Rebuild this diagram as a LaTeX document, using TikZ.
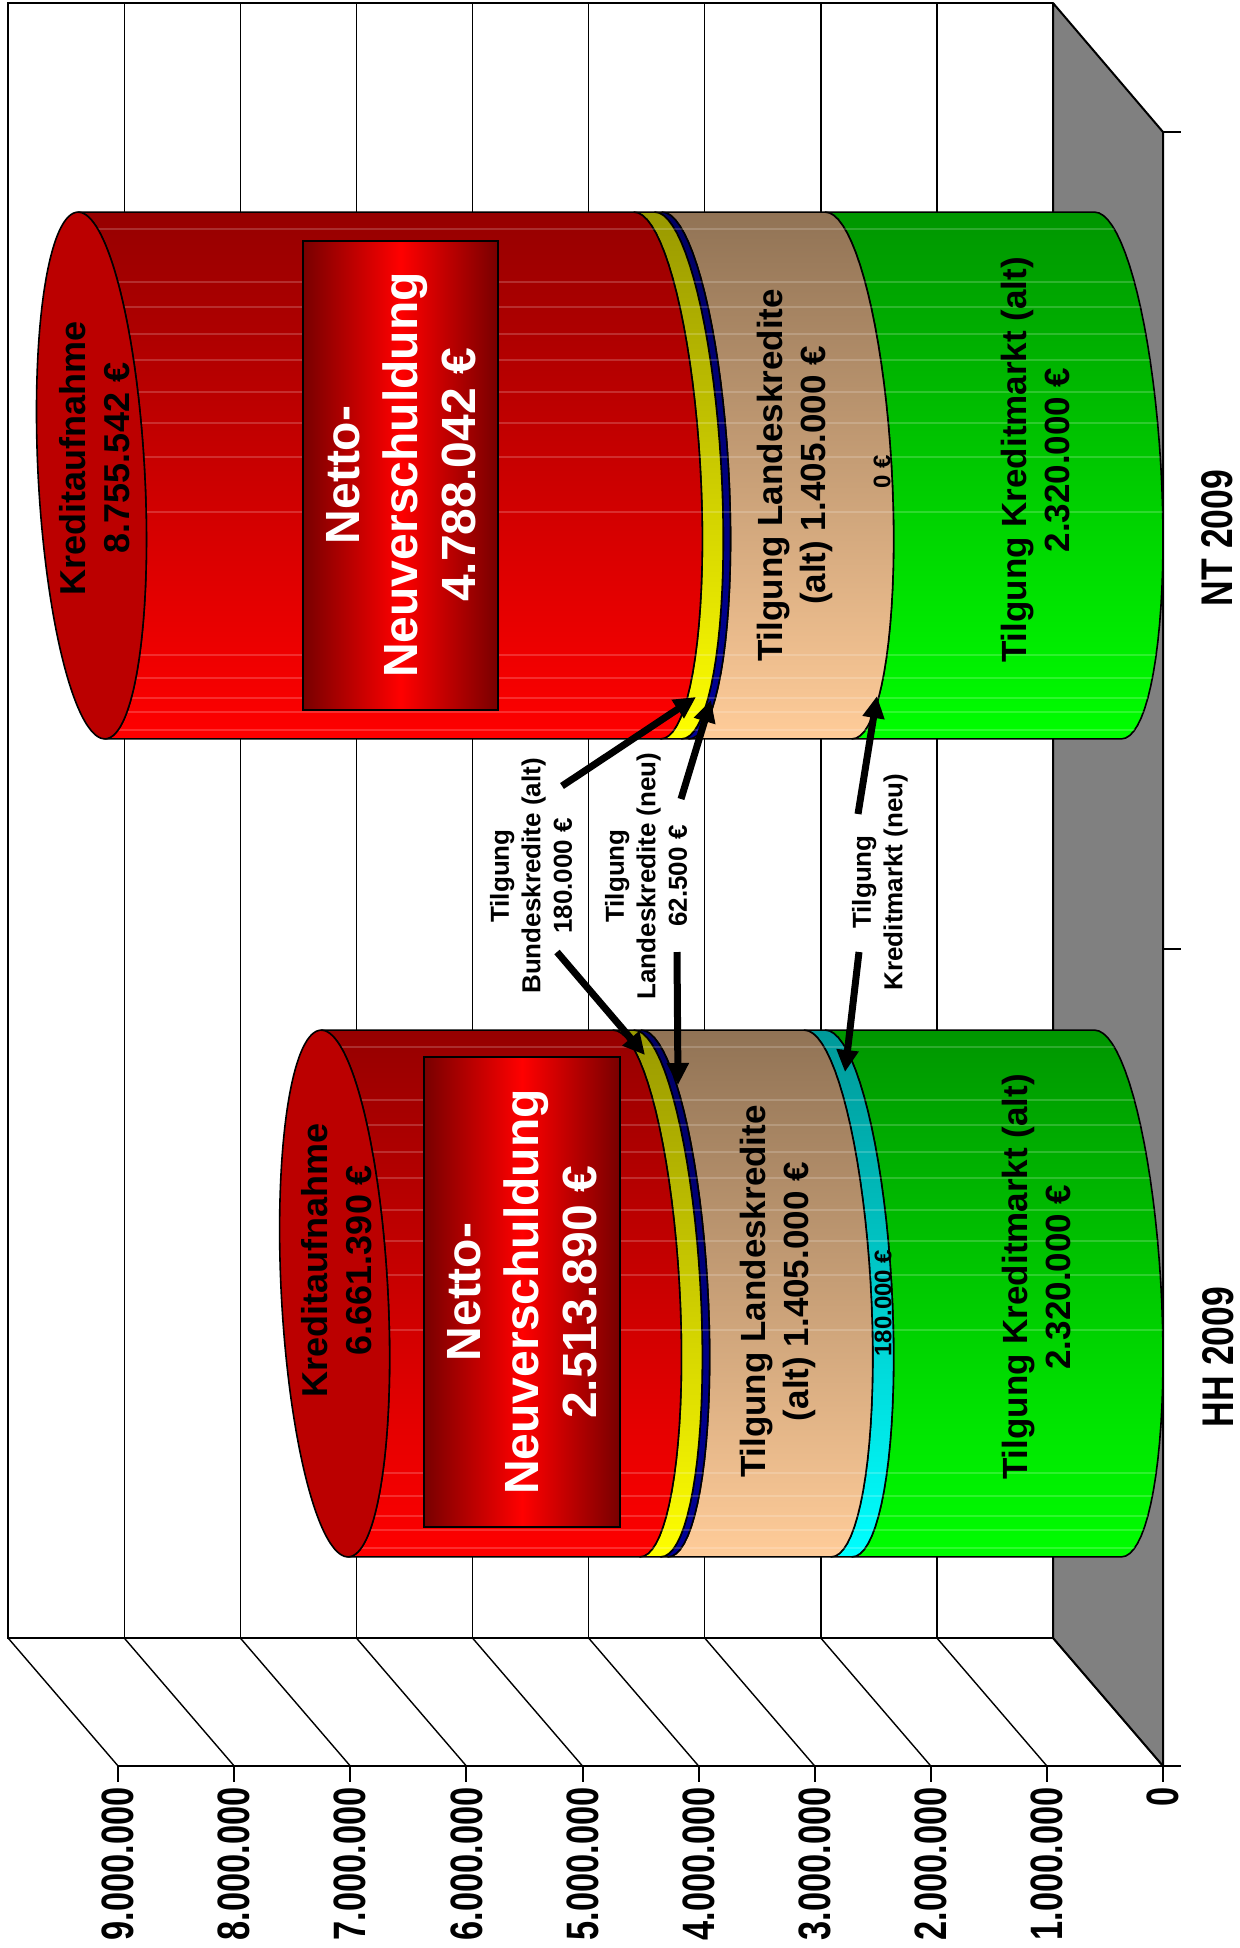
\documentclass[tikz,border=0pt]{standalone}
\usepackage{fontspec}
\setmainfont{Liberation Sans}
\usetikzlibrary{arrows.meta}
\definecolor{redTop}{RGB}{150,0,0}
\definecolor{redBot}{RGB}{255,0,0}
\definecolor{capRed}{RGB}{187,0,0}
\definecolor{yelTop}{RGB}{153,153,0}
\definecolor{yelBot}{RGB}{255,255,0}
\definecolor{navTop}{RGB}{0,0,100}
\definecolor{navBot}{RGB}{0,0,150}
\definecolor{tanTop}{RGB}{145,115,85}
\definecolor{tanBot}{RGB}{255,204,153}
\definecolor{cyaTop}{RGB}{0,153,153}
\definecolor{cyaBot}{RGB}{0,255,255}
\definecolor{grnTop}{RGB}{0,150,0}
\definecolor{grnBot}{RGB}{0,255,0}
\definecolor{floorGray}{RGB}{128,128,128}
\definecolor{boxDark}{RGB}{120,0,0}
\definecolor{boxMid}{RGB}{255,0,0}

% segment of a cylinder: #1 centre y, #2 lower value, #3 upper value, #4 top colour, #5 bottom colour
\newcommand\cylSeg[5]{%
  \pgfmathsetmacro\xa{1108-116.1*#2}%
  \pgfmathsetmacro\xb{1108-116.1*#3}%
  \shadedraw[top color=#4, bottom color=#5, draw=black, line width=1.6pt, line join=round]
    plot[domain=194.06:14.06, samples=40, variable=\ang] ({\xa+55*sin(\ang)}, {#1+255.5*cos(\ang)+64*sin(\ang)})
    -- plot[domain=14.06:194.06, samples=40, variable=\ang] ({\xb+55*sin(\ang)}, {#1+255.5*cos(\ang)+64*sin(\ang)})
    -- cycle;
}
\newcommand\cylStripes[2]{%
  \pgfmathsetmacro\xb{1108-116.1*#2}%
  \begin{scope}
  \clip plot[domain=194.06:14.06, samples=40, variable=\ang] ({1108+55*sin(\ang)}, {#1+255.5*cos(\ang)+64*sin(\ang)})
    -- plot[domain=14.06:194.06, samples=40, variable=\ang] ({\xb+55*sin(\ang)}, {#1+255.5*cos(\ang)+64*sin(\ang)}) -- cycle;
  \foreach \o in {17,70,95,122,148,180,211,245,300,443,466,486,500,518}
    \draw[white, opacity=.18, line width=1.2pt] (0,{#1-263.5+\o}) -- (1239,{#1-263.5+\o});
  \end{scope}%
}
\newcommand\cylCap[2]{%
  \pgfmathsetmacro\xb{1108-116.1*#2}%
  \filldraw[fill=capRed, line width=1.6pt] plot[domain=0:360, samples=73, smooth, variable=\ang]
    ({\xb+55*sin(\ang)}, {#1+255.5*cos(\ang)+64*sin(\ang)}) -- cycle;
}

\begin{document}
\begin{tikzpicture}[x=1pt,y=-1pt,
  wallframe/.style={line width=2pt},
  gridln/.style={line width=1.4pt},
  lab/.style={rotate=90, inner sep=0pt, align=center, font=\fontsize{35}{43}\selectfont\bfseries},
  klab/.style={lab, font=\fontsize{36}{44}\selectfont\bfseries},
  blab/.style={lab, text=white, font=\fontsize{48}{58}\selectfont\bfseries},
  clab/.style={lab, font=\fontsize{26}{31.5}\selectfont\bfseries},
  slab/.style={lab, font=\fontsize{24}{28}\selectfont\bfseries},
  vlab/.style={rotate=90, anchor=east, inner sep=0pt, font=\fontsize{34.4}{40}\selectfont\bfseries},
  catlab/.style={rotate=90, inner sep=0pt, font=\fontsize{35.5}{42}\selectfont\bfseries},
  nbox/.style={draw=black, line width=2.5pt, left color=boxDark, right color=boxDark, middle color=boxMid, inner sep=0pt},
  arr/.style={line width=7pt, -{Triangle[length=22pt,width=21pt]}},
]
\useasboundingbox (0,0) rectangle (1239,1948);
\fill[white] (0,0) rectangle (1239,1948);

% floor (right side) and walls
\filldraw[fill=floorGray, line width=2pt, line join=round] (1053,3) -- (1163,132) -- (1163,1766) -- (1053,1638) -- cycle;
\foreach \k in {1,...,8} \draw[gridln] ({1053-116.1*\k},3) -- ({1053-116.1*\k},1638);
\foreach \k in {0,...,9} \draw[gridln] ({1053-116.1*\k},1638) -- ({1163-116.1*\k},1766);
\draw[wallframe] (1053,3) -- (8,3) -- (8,1638) -- (1053,1638);
% axes
\draw[wallframe] (118,1766) -- (1181,1766);
\foreach \k in {0,...,9} \draw[wallframe] ({1163-116.1*\k},1766) -- ({1163-116.1*\k},1782);
\draw[wallframe] (1163,132) -- (1163,1766);
\draw[wallframe] (1163,132) -- (1181,132);
\draw[wallframe] (1163,949) -- (1181,949);

% NT 2009 cylinder
\cylSeg{475.5}{0}{2.32}{grnTop}{grnBot}
\cylSeg{475.5}{2.32}{3.725}{tanTop}{tanBot}
\cylSeg{475.5}{3.725}{3.7875}{navTop}{navBot}
\cylSeg{475.5}{3.7875}{3.9675}{yelTop}{yelBot}
\cylSeg{475.5}{3.9675}{8.755542}{redTop}{redBot}
\cylStripes{475.5}{8.755542}
\cylCap{475.5}{8.755542}

% HH 2009 cylinder
\cylSeg{1293.5}{0}{2.32}{grnTop}{grnBot}
\cylSeg{1293.5}{2.32}{2.5}{cyaTop}{cyaBot}
\cylSeg{1293.5}{2.5}{3.905}{tanTop}{tanBot}
\cylSeg{1293.5}{3.905}{3.9675}{navTop}{navBot}
\cylSeg{1293.5}{3.9675}{4.1475}{yelTop}{yelBot}
\cylSeg{1293.5}{4.1475}{6.66139}{redTop}{redBot}
\cylStripes{1293.5}{6.66139}
\cylCap{1293.5}{6.66139}

% Netto-Neuverschuldung boxes
\node[nbox, minimum width=195pt, minimum height=469pt] (boxNT) at (400.5,475.5) {};
\node[blab] (txtNT) at (401,475) {Netto-\\Neuverschuldung\\4.788.042 €};
\node[nbox, minimum width=196pt, minimum height=470pt] (boxHH) at (522,1292) {};
\node[blab] (txtHH) at (522,1292) {Netto-\\Neuverschuldung\\2.513.890 €};

% labels on cylinders
\node[klab] (kaNT) at (94.7,458) {Kreditaufnahme\\8.755.542 €};
\node[klab] (kaHH) at (337,1260) {Kreditaufnahme\\6.661.390 €};
\node[lab] (tlNT) at (795,475.5) {Tilgung Landeskredite\\(alt) 1.405.000 €};
\node[lab] (tlHH) at (778,1291.6) {Tilgung Landeskredite\\(alt) 1.405.000 €};
\node[lab] (tkNT) at (1036,460) {Tilgung Kreditmarkt (alt)\\2.320.000 €};
\node[lab] (tkHH) at (1036.5,1277) {Tilgung Kreditmarkt (alt)\\2.320.000 €};
\node[slab] (zeroNT) at (882,472) {0 €};
\node[slab] (cyHH) at (883,1303) {180.000 €};

% callouts
\node[clab] (cB) at (531,876) {Tilgung\\Bundeskredite (alt)\\180.000 €};
\node[clab] (cL) at (646,876) {Tilgung\\Landeskredite (neu)\\62.500 €};
\node[clab] (cK) at (880,882) {Tilgung\\Kreditmarkt (neu)};

\coordinate (a1s) at (562,786);  \coordinate (a1e) at (696,697);
\coordinate (a2s) at (557,952);  \coordinate (a2e) at (645,1055);
\coordinate (a3s) at (681,799);  \coordinate (a3e) at (711,700);
\coordinate (a4s) at (677,952);  \coordinate (a4e) at (678,1085);
\coordinate (a5s) at (858,814);  \coordinate (a5e) at (877,696);
\coordinate (a6s) at (859,952);  \coordinate (a6e) at (845,1072);
\draw[arr] (a1s) -- (a1e);
\draw[arr] (a2s) -- (a2e);
\draw[arr] (a3s) -- (a3e);
\draw[arr] (a4s) -- (a4e);
\draw[arr] (a5s) -- (a5e);
\draw[arr] (a6s) -- (a6e);

% axis labels
\foreach \k/\lab in {0/0,1/1.000.000,2/2.000.000,3/3.000.000,4/4.000.000,5/5.000.000,6/6.000.000,7/7.000.000,8/8.000.000,9/9.000.000}
  \node[vlab] (v\k) at ({1163-116.1*\k},1787) {\scalebox{1}[1.32]{\lab}};
\node[catlab] (catNT) at (1217,538) {\scalebox{1}[1.25]{NT 2009}};
\node[catlab] (catHH) at (1218,1357) {\scalebox{1}[1.25]{HH 2009}};
\end{tikzpicture}
\end{document}
